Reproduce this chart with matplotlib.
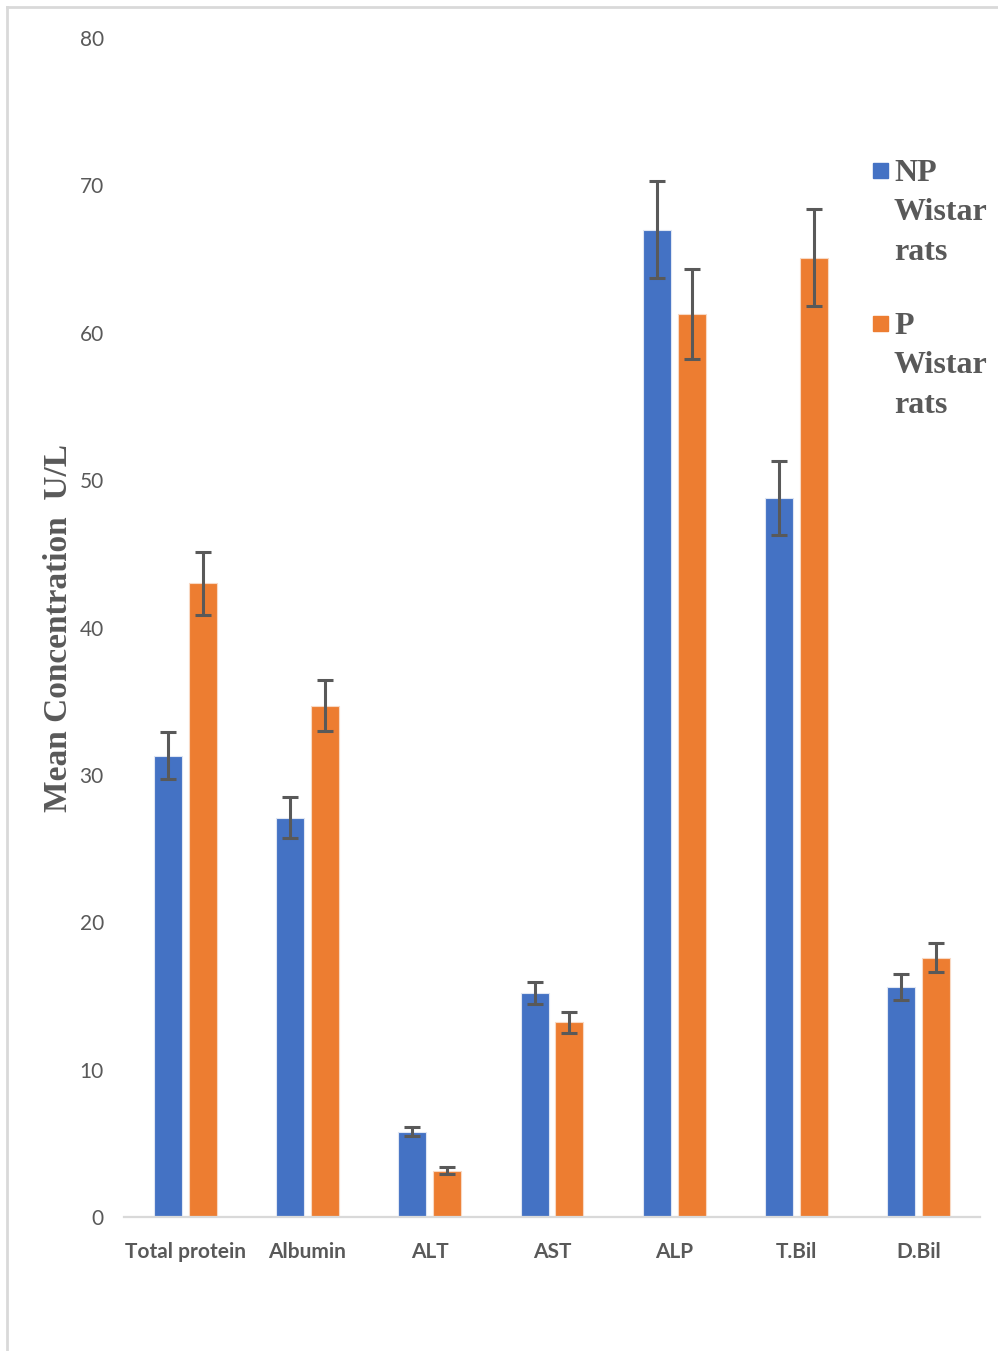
import numpy as np
import matplotlib
matplotlib.use("Agg")
import matplotlib.pyplot as plt
from matplotlib.lines import Line2D
from matplotlib.patches import Rectangle

# liver / protein panel, mean +/- error for each group
categories = ["Total protein", "Albumin", "ALT", "AST", "ALP", "T.Bil", "D.Bil"]
series = ["NP Wistar rats", "P Wistar rats"]
np_mean = [31.3, 27.1, 5.8, 15.2, 67.0, 48.8, 15.6]
np_err = [1.6, 1.4, 0.3, 0.77, 3.3, 2.5, 0.9]
p_mean = [43.0, 34.7, 3.15, 13.2, 61.3, 65.1, 17.6]
p_err = [2.15, 1.72, 0.23, 0.7, 3.05, 3.3, 0.97]
yticks = [0, 10, 20, 30, 40, 50, 60, 70, 80]

colors = ["#4472C4", "#ED7D31"]
grey = "#595959"
W, H = 998, 1351

fig = plt.figure(figsize=(W / 100, H / 100), dpi=100)
ax = fig.add_axes([124 / W, 1 - 1217 / H, (980 - 124) / W, (1217 - 38) / H])

x = np.arange(len(categories))
bw = 0.229
off = 0.143
for i, (m, e) in enumerate([(np_mean, np_err), (p_mean, p_err)]):
    xs = x + (i * 2 - 1) * off
    ax.bar(xs, m, width=bw, color=colors[i], edgecolor="#dfe6f3" if i == 0 else "#f8d9c4",
           linewidth=0.8, zorder=2)
    ax.errorbar(xs, m, yerr=e, fmt="none", ecolor=grey, elinewidth=2.2,
                capsize=5.5, capthick=2.2, zorder=3)

ax.set_xlim(-0.5, len(categories) - 0.5)
ax.set_ylim(0, 80)
ax.set_yticks(yticks)
ax.set_xticks(x)
ax.set_xticklabels(categories, fontfamily="Lato", fontweight="bold", fontsize=15, color=grey)
ax.tick_params(axis="x", length=0, pad=18)
ax.tick_params(axis="y", length=0, pad=14.5, labelsize=15, labelcolor=grey)
for lab in ax.get_yticklabels():
    lab.set_fontfamily("Lato")
for s in ["top", "right", "left"]:
    ax.spines[s].set_visible(False)
ax.spines["bottom"].set_color("#d9d9d9")
ax.spines["bottom"].set_linewidth(1.6)

ax.set_ylabel("Mean Concentration  U/L", fontfamily="Liberation Serif", fontweight="bold",
              fontsize=24, color=grey)
ax.yaxis.set_label_coords(-50 / (980 - 124), 0.50)

# legend drawn by hand: square marker beside a wrapped label
for i, name in enumerate(series):
    top = 170 + i * 153
    fig.add_artist(Rectangle((873 / W, 1 - (top + 8) / H), 15 / W, 15 / H,
                             transform=fig.transFigure, color=colors[i]))
    fig.text(894 / W, 1 - (top - 11) / H, "\n".join(name.split()), ha="left", va="top",
             fontfamily="Liberation Serif", fontweight="bold", fontsize=23, color=grey,
             linespacing=1.47)

# thin frame round the chart area
fig.add_artist(Line2D([7 / W, 1], [1 - 7 / H, 1 - 7 / H], color="#d9d9d9", lw=2,
                      transform=fig.transFigure))
fig.add_artist(Line2D([7 / W, 7 / W], [0, 1 - 7 / H], color="#d9d9d9", lw=2,
                      transform=fig.transFigure))

fig.savefig("out.png", dpi=100, facecolor="white")
